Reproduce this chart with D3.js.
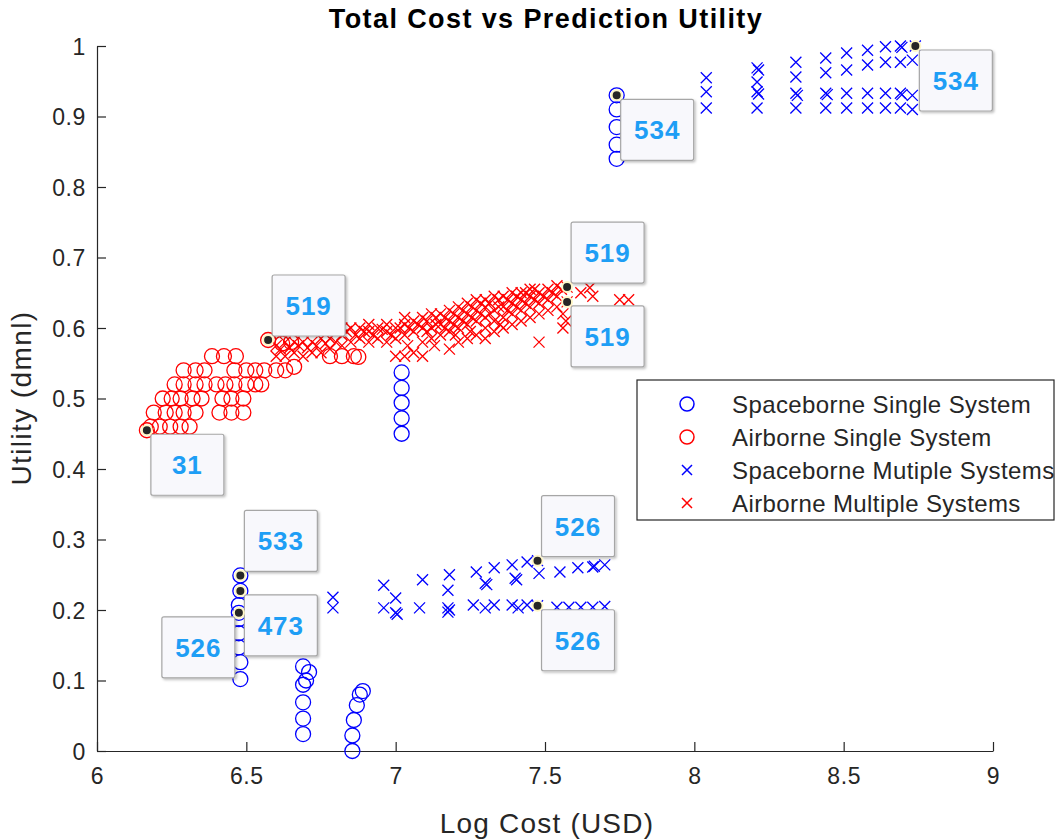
<!DOCTYPE html>
<html>
<head>
<meta charset="utf-8">
<script src="https://cdn.jsdelivr.net/npm/d3@7/dist/d3.min.js"></script>
<style>
  html, body { margin: 0; padding: 0; background: #ffffff; }
  svg { display: block; }
  text { font-family: "Liberation Sans", Arial, Helvetica, sans-serif; }
</style>
</head>
<body>
<svg id="chart" width="1056" height="840"></svg>
<script>
// ---------------- DATA ----------------
const titleText = "Total Cost vs Prediction Utility";
const xLabel = "Log Cost (USD)";
const yLabel = "Utility (dmnl)";
const xTicks = [6, 6.5, 7, 7.5, 8, 8.5, 9];
const yTicks = [0, 0.1, 0.2, 0.3, 0.4, 0.5, 0.6, 0.7, 0.8, 0.9, 1];
const seriesNames = ["Spaceborne Single System", "Airborne Single System", "Spaceborne Mutiple Systems", "Airborne Multiple Systems"];

// Spaceborne Single System (circles)
const spaceSingle = [
  [7.74,0.93],[7.74,0.91],[7.74,0.885],[7.74,0.86],[7.74,0.84],
  [7.02,0.537],[7.02,0.515],[7.02,0.494],[7.02,0.472],[7.02,0.45],
  [6.48,0.249],[6.48,0.227],[6.475,0.207],[6.475,0.196],[6.475,0.187],[6.475,0.167],[6.475,0.147],[6.48,0.126],[6.48,0.102],
  [6.69,0.12],[6.71,0.112],[6.70,0.10],[6.69,0.094],[6.69,0.069],[6.69,0.046],[6.69,0.024],
  [6.855,0.0],[6.855,0.022],[6.86,0.044],[6.87,0.065],[6.88,0.08],[6.89,0.085]
];

// Airborne Single System (circles)
const airSingle = [
  [6.167,0.455],[6.18,0.46],[6.21,0.46],[6.245,0.46],[6.28,0.46],[6.31,0.46],
  [6.19,0.48],[6.23,0.48],[6.26,0.48],[6.29,0.48],[6.33,0.48],[6.41,0.48],[6.45,0.48],[6.49,0.48],
  [6.22,0.50],[6.25,0.50],[6.28,0.50],[6.32,0.50],[6.35,0.50],[6.42,0.50],[6.45,0.50],[6.49,0.50],
  [6.26,0.52],[6.29,0.52],[6.33,0.52],[6.36,0.52],[6.40,0.52],[6.43,0.52],[6.46,0.52],[6.50,0.52],[6.53,0.52],[6.55,0.52],
  [6.29,0.54],[6.33,0.54],[6.36,0.54],[6.46,0.54],[6.50,0.54],[6.53,0.54],[6.56,0.54],[6.60,0.54],[6.63,0.54],[6.66,0.545],
  [6.385,0.56],[6.425,0.56],[6.465,0.56],
  [6.573,0.583],[6.62,0.578],[6.65,0.58],
  [6.78,0.56],[6.82,0.56],[6.86,0.56],[6.875,0.559]
];

// Spaceborne Mutiple Systems (x marks)
const spaceMulti = [
  [6.79,0.218],[6.79,0.203],
  [6.96,0.235],[7.0,0.217],[6.96,0.203],[7.0,0.196],[7.005,0.194],
  [7.09,0.243],[7.08,0.203],
  [7.18,0.25],[7.175,0.228],[7.175,0.203],[7.175,0.197],[7.18,0.2],
  [7.27,0.254],[7.3,0.238],[7.305,0.236],[7.26,0.207],[7.3,0.203],[7.33,0.207],
  [7.33,0.26],[7.39,0.264],[7.4,0.245],[7.405,0.243],[7.39,0.207],[7.41,0.203],[7.44,0.207],
  [7.44,0.268],[7.475,0.27],[7.48,0.252],[7.55,0.254],[7.61,0.26],[7.66,0.261],[7.665,0.262],[7.7,0.264],
  [7.475,0.206],[7.54,0.204],[7.58,0.204],[7.62,0.204],[7.66,0.204],[7.7,0.205],
  [8.04,0.955],[8.04,0.935],[8.04,0.912],
  [8.21,0.969],[8.215,0.966],[8.21,0.949],[8.21,0.935],[8.215,0.932],[8.21,0.912],
  [8.34,0.977],[8.34,0.956],[8.34,0.933],[8.345,0.93],[8.34,0.912],
  [8.44,0.983],[8.44,0.962],[8.44,0.933],[8.445,0.931],[8.44,0.912],
  [8.51,0.99],[8.51,0.966],[8.51,0.933],[8.51,0.912],
  [8.58,0.994],[8.58,0.973],[8.58,0.933],[8.58,0.912],
  [8.64,0.999],[8.64,0.977],[8.64,0.933],[8.64,0.912],
  [8.69,1.0],[8.695,0.998],[8.69,0.977],[8.69,0.933],[8.695,0.931],[8.69,0.912],
  [8.74,1.0],[8.73,0.98],[8.73,0.93],[8.73,0.91]
];

// Airborne Multiple Systems (x marks)
const airMulti = [
  [6.60,0.56],[6.60,0.575],[6.63,0.56],[6.63,0.58],[6.66,0.565],[6.66,0.58],
  [6.69,0.56],[6.69,0.58],[6.72,0.565],[6.72,0.58],[6.75,0.565],[6.75,0.585],
  [6.78,0.57],[6.78,0.585],[6.82,0.575],[6.82,0.59],[6.82,0.60],
  [6.85,0.58],[6.85,0.60],[6.88,0.585],[6.88,0.60],
  [6.91,0.58],[6.91,0.595],[6.91,0.605],[6.94,0.585],[6.94,0.60],
  [6.97,0.58],[6.97,0.595],[6.97,0.605],[7.00,0.56],[7.00,0.585],[7.00,0.60],
  [7.03,0.56],[7.03,0.59],[7.03,0.605],[7.03,0.615],
  [7.06,0.565],[7.06,0.595],[7.06,0.61],
  [7.09,0.56],[7.09,0.58],[7.09,0.60],[7.09,0.615],
  [7.12,0.585],[7.12,0.60],[7.12,0.62],
  [7.15,0.59],[7.15,0.605],[7.15,0.62],
  [7.18,0.57],[7.18,0.595],[7.18,0.61],[7.18,0.625],
  [7.21,0.58],[7.21,0.60],[7.21,0.615],[7.21,0.63],
  [7.24,0.585],[7.24,0.605],[7.24,0.62],[7.24,0.635],
  [7.27,0.59],[7.27,0.61],[7.27,0.625],[7.27,0.64],
  [7.30,0.585],[7.30,0.60],[7.30,0.615],[7.30,0.63],[7.30,0.64],
  [7.33,0.595],[7.33,0.61],[7.33,0.625],[7.33,0.645],
  [7.36,0.60],[7.36,0.615],[7.36,0.63],[7.36,0.645],
  [7.39,0.605],[7.39,0.62],[7.39,0.635],[7.39,0.65],
  [7.42,0.61],[7.42,0.625],[7.42,0.64],[7.42,0.65],
  [7.45,0.615],[7.45,0.63],[7.45,0.645],[7.45,0.655],
  [7.48,0.58],[7.48,0.62],[7.48,0.635],[7.48,0.65],
  [7.51,0.625],[7.51,0.64],[7.51,0.655],
  [7.54,0.63],[7.54,0.645],[7.54,0.66],
  [7.574,0.658],[7.574,0.637],[7.56,0.62],[7.56,0.60],[7.57,0.61],
  [7.62,0.65],[7.65,0.657],[7.66,0.645],[7.75,0.64],[7.78,0.64],
  [6.615,0.57],[6.645,0.572],[6.675,0.575],[6.705,0.572],[6.735,0.575],[6.765,0.578],
  [6.80,0.58],[6.835,0.595],[6.865,0.59],[6.895,0.595],[6.925,0.59],[6.955,0.598],
  [6.985,0.59],[7.015,0.60],[7.045,0.60],[7.075,0.605],[7.105,0.595],[7.105,0.61],
  [7.135,0.605],[7.135,0.615],[7.165,0.60],[7.165,0.615],[7.195,0.605],[7.195,0.62],
  [7.225,0.61],[7.225,0.625],[7.255,0.615],[7.255,0.63],[7.285,0.62],[7.285,0.635],
  [7.315,0.62],[7.315,0.635],[7.345,0.63],[7.345,0.64],[7.375,0.625],[7.375,0.64],
  [7.405,0.63],[7.405,0.645],[7.435,0.635],[7.435,0.65],[7.465,0.64],[7.465,0.655],
  [7.495,0.645],[7.525,0.65],[7.555,0.655],[7.04,0.575],[7.13,0.575],[7.20,0.59],
  [7.25,0.595],[7.35,0.605]
];

// Data tips
const tipX     = [7.74, 8.74, 7.574, 7.574, 6.573, 6.167, 6.48, 6.48, 6.475, 7.475, 7.475];
const tipY     = [0.93, 1.0, 0.658, 0.637, 0.583, 0.455, 0.249, 0.227, 0.196, 0.27, 0.206];
const tipLabel = ["534", "534", "519", "519", "519", "31", "533", "473", "526", "526", "526"];
const tipSide  = ["se", "se", "ne", "se", "ne", "se", "ne", "se", "sw", "ne", "se"];

// ---------------- LAYOUT ----------------
const svg = d3.select("#chart");
const W = 1056, H = 840;
const plot = { left: 97, right: 993, top: 46, bottom: 751 };
const axisColor = "#262626";
const blue = "#0000ff", red = "#ff0000";

const x = d3.scaleLinear().domain([6, 9]).range([plot.left, plot.right]);
const y = d3.scaleLinear().domain([0, 1]).range([plot.bottom, plot.top]);

svg.append("rect").attr("width", W).attr("height", H).attr("fill", "#ffffff");

// axes
const xAxis = d3.axisBottom(x).tickValues(xTicks).tickSizeInner(-9).tickSizeOuter(0).tickPadding(17)
  .tickFormat(d => d3.format("")(d));
const yAxis = d3.axisLeft(y).tickValues(yTicks).tickSizeInner(-9).tickSizeOuter(0).tickPadding(11)
  .tickFormat(d => d3.format("")(d));

const gx = svg.append("g").attr("transform", `translate(0,${plot.bottom})`).call(xAxis);
const gy = svg.append("g").attr("transform", `translate(${plot.left},0)`).call(yAxis);
[gx, gy].forEach(g => {
  g.selectAll(".domain").attr("stroke", axisColor).attr("stroke-width", 1.2);
  g.selectAll(".tick line").attr("stroke", axisColor).attr("stroke-width", 1.2);
  g.selectAll(".tick text").attr("fill", axisColor).style("font-size", "23px")
    .style("letter-spacing", "0.6px")
    .style("font-family", "'Liberation Sans', Arial, sans-serif");
});
gx.selectAll(".tick text").attr("dy", "0.71em");
gy.selectAll(".tick text").attr("dy", "0.35em");

// labels
svg.append("text").attr("x", 546).attr("y", 28).attr("text-anchor", "middle")
  .style("font-size", "27px").style("font-weight", "bold").style("letter-spacing", "1.4px")
  .attr("fill", "#000").text(titleText);
svg.append("text").attr("x", 547).attr("y", 833).attr("text-anchor", "middle")
  .style("font-size", "28px").style("letter-spacing", "1.2px").attr("fill", axisColor).text(xLabel);
svg.append("text").attr("transform", `translate(31,398) rotate(-90)`).attr("text-anchor", "middle")
  .style("font-size", "28px").style("letter-spacing", "1.4px").attr("fill", axisColor).text(yLabel);

// markers
const R = 7.5, XS = 5.5;
function drawCircles(data, color) {
  svg.append("g").selectAll("circle").data(data).join("circle")
    .attr("cx", d => x(d[0])).attr("cy", d => y(d[1])).attr("r", R)
    .attr("fill", "none").attr("stroke", color).attr("stroke-width", 1.3);
}
function xPath(cx, cy, s) {
  return `M${cx - s},${cy - s}L${cx + s},${cy + s}M${cx - s},${cy + s}L${cx + s},${cy - s}`;
}
function drawCrosses(data, color) {
  svg.append("g").selectAll("path").data(data).join("path")
    .attr("d", d => xPath(x(d[0]), y(d[1]), XS))
    .attr("fill", "none").attr("stroke", color).attr("stroke-width", 1.3);
}
drawCircles(spaceSingle, blue);
drawCircles(airSingle, red);
drawCrosses(spaceMulti, blue);
drawCrosses(airMulti, red);

// data tips
const boxW = 73, boxH = 61, gap = 4;
const tips = tipX.map((v, i) => ({ x: v, y: tipY[i], label: tipLabel[i], side: tipSide[i] }));
const defs = svg.append("defs");
const f = defs.append("filter").attr("id", "shadow").attr("x", "-10%").attr("y", "-10%").attr("width", "130%").attr("height", "130%");
f.append("feDropShadow").attr("dx", 1.5).attr("dy", 1.5).attr("stdDeviation", 1.2).attr("flood-color", "#000").attr("flood-opacity", 0.25);

const gt = svg.append("g");
tips.forEach(t => {
  const px = x(t.x), py = y(t.y);
  const bx = t.side.includes("w") ? px - gap - boxW : px + gap;
  const by = t.side.includes("n") ? py - gap - boxH : py + gap;
  gt.append("rect").attr("x", bx).attr("y", by).attr("width", boxW).attr("height", boxH)
    .attr("rx", 2).attr("fill", "#f8f8fc").attr("stroke", "#a6a6a6").attr("stroke-width", 1.2)
    .attr("filter", "url(#shadow)");
  gt.append("text").attr("x", bx + boxW / 2).attr("y", by + boxH / 2).attr("dy", "0.36em")
    .attr("text-anchor", "middle").style("font-size", "26px").style("font-weight", "bold")
    .style("letter-spacing", "1px").attr("fill", "#1e9ef5").text(t.label);
  gt.append("circle").attr("cx", px).attr("cy", py).attr("r", 5)
    .attr("fill", "#262626").attr("stroke", "#fff7c8").attr("stroke-width", 2);
});

// legend
const lg = svg.append("g");
lg.append("rect").attr("x", 637).attr("y", 380).attr("width", 417).attr("height", 140)
  .attr("fill", "#ffffff").attr("stroke", axisColor).attr("stroke-width", 1.2);
const legendStyles = [
  { type: "circle", color: blue }, { type: "circle", color: red },
  { type: "cross", color: blue }, { type: "cross", color: red }
];
seriesNames.forEach((name, i) => {
  const cy = 404 + i * 33;
  const st = legendStyles[i];
  if (st.type === "circle") {
    lg.append("circle").attr("cx", 687).attr("cy", cy).attr("r", 7).attr("fill", "none")
      .attr("stroke", st.color).attr("stroke-width", 1.5);
  } else {
    lg.append("path").attr("d", xPath(687, cy, 5)).attr("fill", "none")
      .attr("stroke", st.color).attr("stroke-width", 1.5);
  }
  lg.append("text").attr("x", 732).attr("y", cy).attr("dy", "0.36em")
    .style("font-size", "24px").style("letter-spacing", "0.4px").attr("fill", axisColor).text(name);
});
</script>
</body>
</html>
